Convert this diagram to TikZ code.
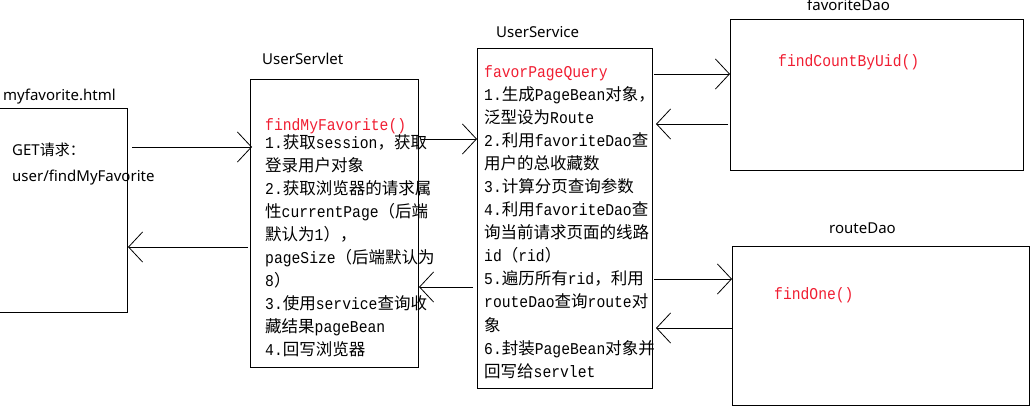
\documentclass[tikz,border=0pt]{standalone}
\usepackage{fontspec}
\setmainfont{Noto Sans}
\newfontfamily\zhfont{Noto Sans CJK SC}
\newfontfamily\codefont[FakeStretch=0.89]{Liberation Mono}
\newcommand{\zh}[1]{{\zhfont #1}}
\usetikzlibrary{arrows.meta}
\definecolor{methodred}{RGB}{240,30,50}

\begin{document}
\begin{tikzpicture}[x=1pt, y=-1pt,
    box/.style={draw, line width=1pt, inner sep=0pt, anchor=north west},
    title/.style={anchor=base west, inner sep=0pt, font=\fontsize{15}{18}\selectfont},
    code/.style={anchor=base west, inner sep=0pt, font=\codefont\fontsize{16.5}{23}\selectfont},
    method/.style={code, text=methodred},
    flow/.style={line width=0.8pt, -{Straight Barb[length=14pt, width=30pt, line width=0.8pt]}}]
\useasboundingbox (0,0) rectangle (1030,411);

% boxes
\node[box, minimum width=130pt, minimum height=204pt] (html) at (-3,108) {};
\node[box, minimum width=168pt, minimum height=288pt] (servlet) at (250,79) {};
\node[box, minimum width=175pt, minimum height=340pt] (service) at (477,48) {};
\node[box, minimum width=293pt, minimum height=151pt] (fav) at (730,19) {};
\node[box, minimum width=297pt, minimum height=159pt] (route) at (732,246) {};

% titles
\node[title] (htmlname) at (3,101) {myfavorite.html};
\node[title] (servletname) at (262,65) {UserServlet};
\node[title] (servicename) at (496,38) {UserService};
\node[title] (favname) at (807,11) {favoriteDao};
\node[title] (routename) at (829,234) {routeDao};

% page
\node[title] (get) at (12,156) {GET\zh{请求：}};
\node[title] (url) at (12,182) {user/findMyFavorite};

% servlet
\node[method] (servletmethod) at (265,131) {findMyFavorite()};
\foreach \txt [count=\i] in {
    1.\zh{获取}session\zh{，获取},
    \zh{登录用户对象},
    2.\zh{获取浏览器的请求属},
    \zh{性}currentPage\zh{（后端},
    \zh{默认为}1\zh{），},
    pageSize\zh{（后端默认为},
    8\zh{）},
    3.\zh{使用}service\zh{查询收},
    \zh{藏结果}pageBean,
    4.\zh{回写浏览器}}
  \node[code] (sl\i) at (265,{149+22.9*(\i-1)}) {\txt};

% service
\node[method] (servicemethod) at (484,78) {favorPageQuery};
\foreach \txt [count=\i] in {
    1.\zh{生成}PageBean\zh{对象，},
    \zh{泛型设为}Route,
    2.\zh{利用}favoriteDao\zh{查},
    \zh{用户的总收藏数},
    3.\zh{计算分页查询参数},
    4.\zh{利用}favoriteDao\zh{查},
    \zh{询当前请求页面的线路},
    id\zh{（}rid\zh{）},
    5.\zh{遍历所有}rid\zh{，利用},
    routeDao\zh{查询}route\zh{对},
    \zh{象},
    6.\zh{封装}PageBean\zh{对象并},
    \zh{回写给}servlet}
  \node[code] (us\i) at (484,{101+23*(\i-1)}) {\txt};

% dao
\node[method] (favmethod) at (778,67) {findCountByUid()};
\node[method] (routemethod) at (774,300) {findOne()};

% calls
\draw[flow] ([xshift=4pt,yshift=-39pt]html.north east) -- ([xshift=2pt,yshift=-68pt]servlet.north west);
\draw[flow] ([xshift=-2pt,yshift=-168pt]servlet.north west) -- ([yshift=-139pt]html.north east);
\draw[flow] ([xshift=2pt,yshift=-60pt]servlet.north east) -- ([yshift=-91pt]service.north west);
\draw[flow] ([xshift=-4pt,yshift=-239pt]service.north west) -- ([yshift=-208pt]servlet.north east);
\draw[flow] ([xshift=1pt,yshift=-26pt]service.north east) -- ([yshift=-55pt]fav.north west);
\draw[flow] ([xshift=-2pt,yshift=-105pt]fav.north west) -- ([xshift=3pt,yshift=-76pt]service.north east);
\draw[flow] ([xshift=1pt,yshift=-231pt]service.north east) -- ([yshift=-33pt]route.north west);
\draw[flow] ([yshift=-82pt]route.north west) -- ([xshift=3pt,yshift=-280pt]service.north east);
\end{tikzpicture}
\end{document}
